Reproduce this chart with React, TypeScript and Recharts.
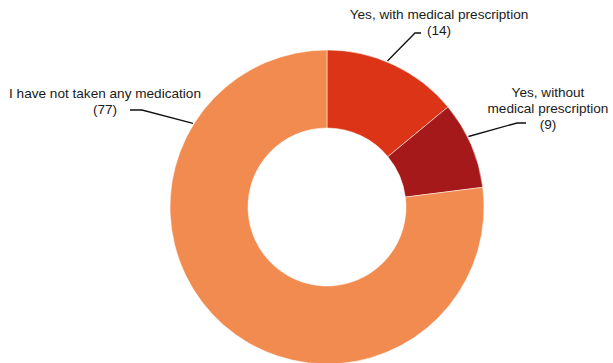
import React from "react";
import { PieChart, Pie, Cell } from "recharts";

const categories = [
  "Yes, with medical prescription",
  "Yes, without medical prescription",
  "I have not taken any medication",
];
const values = [14, 9, 77];
const colors = ["#DB3416", "#A6191A", "#F18B50"];

// label text lines per slice
const labelLines = [
  ["Yes, with medical prescription", "(14)"],
  ["Yes, without", "medical prescription", "(9)"],
  ["I have not taken any medication", "(77)"],
];

// annotation layout: anchor angle on the rim (deg clockwise from top),
// elbow point, end of the short horizontal tick, text centre x and first baseline
const labelLayout = [
  { anchorDeg: 22.5, elbow: [415, 33], tick: [421, 33], tx: 439, ty: 19 },
  { anchorDeg: 63.5, elbow: [517, 123], tick: [526, 123], tx: 548, ty: 97 },
  { anchorDeg: 302, elbow: [142, 110], tick: [130, 110], tx: 105, ty: 98 },
];

const data = categories.map((name, i) => ({ name, value: values[i] }));

const renderLabel = (props: any) => {
  const { cx, cy, outerRadius, index } = props;
  const l = labelLayout[index];
  const a = (l.anchorDeg * Math.PI) / 180;
  const ax = cx + (outerRadius + 1) * Math.sin(a);
  const ay = cy - (outerRadius + 1) * Math.cos(a);
  const lines = labelLines[index];
  return (
    <g key={`lbl-${index}`}>
      <polyline
        points={`${ax},${ay} ${l.elbow[0]},${l.elbow[1]} ${l.tick[0]},${l.tick[1]}`}
        fill="none"
        stroke="#111"
        strokeWidth={1.3}
      />
      <text
        x={l.tx}
        y={l.ty}
        textAnchor="middle"
        fontFamily="'Liberation Sans', Arial, Helvetica, sans-serif"
        fontSize={13.6}
        fill="#1a1a1a"
      >
        {lines.map((t, j) => (
          <tspan key={j} x={l.tx} dy={j === 0 ? 0 : 16}>
            {t}
          </tspan>
        ))}
      </text>
    </g>
  );
};

export default function App() {
  return (
    <div style={{ position: "absolute", left: 0, top: 0, width: 613, height: 363, background: "#fff", overflow: "hidden" }}>
      <PieChart width={613} height={363} margin={{ top: 0, right: 0, bottom: 0, left: 0 }}>
        <Pie
          data={data}
          dataKey="value"
          nameKey="name"
          cx={327}
          cy={207}
          innerRadius={79}
          outerRadius={157}
          startAngle={90}
          endAngle={-270}
          stroke="#fff"
          strokeWidth={0.5}
          isAnimationActive={false}
          label={renderLabel}
          labelLine={false}
        >
          {data.map((d, i) => (
            <Cell key={d.name} fill={colors[i]} />
          ))}
        </Pie>
      </PieChart>
    </div>
  );
}
